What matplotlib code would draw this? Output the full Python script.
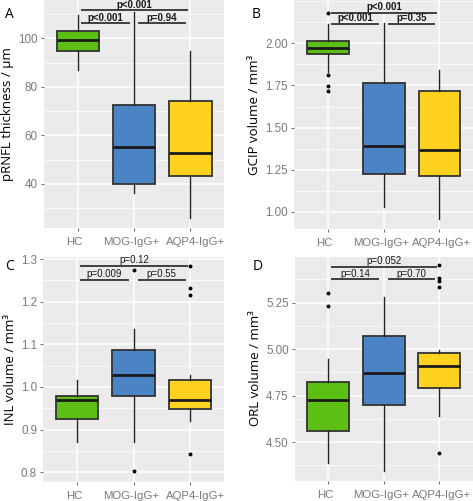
import matplotlib
matplotlib.use("Agg")
import matplotlib.pyplot as plt
from matplotlib.ticker import MultipleLocator
from matplotlib.transforms import ScaledTranslation

groups = ["HC", "MOG-IgG+", "AQP4-IgG+"]
colors = ["#5cbf14", "#4b84c4", "#ffd21f"]

# five-number summaries per group: whisker low, Q1, median, Q3, whisker high
a_stats = [[86.8, 94.8, 99.4, 102.9, 109.7],
           [36.2, 40.0, 55.1, 72.7, 111.0],
           [26.0, 43.2, 52.9, 74.1, 94.8]]
a_fliers = [[], [], []]
b_stats = [[1.832, 1.935, 1.974, 2.014, 2.114],
           [1.032, 1.226, 1.392, 1.763, 2.118],
           [0.958, 1.212, 1.370, 1.719, 1.840]]
b_fliers = [[2.181, 1.81, 1.745, 1.719], [], []]
c_stats = [[0.871, 0.924, 0.969, 0.979, 1.017],
           [0.871, 0.978, 1.028, 1.087, 1.135],
           [0.919, 0.949, 0.970, 1.016, 1.027]]
c_fliers = [[], [0.803, 1.274], [0.842, 1.215, 1.233, 1.284]]
d_stats = [[4.390, 4.558, 4.724, 4.821, 4.948],
           [4.346, 4.700, 4.869, 5.070, 5.277],
           [4.641, 4.792, 4.907, 4.977, 4.997]]
d_fliers = [[5.302, 5.23], [], [4.442, 5.451, 5.381, 5.363, 5.331]]

a_ticks = [40, 60, 80, 100]
b_ticks = [1.00, 1.25, 1.50, 1.75, 2.00]
c_ticks = [0.8, 0.9, 1.0, 1.1, 1.2, 1.3]
d_ticks = [4.50, 4.75, 5.00, 5.25]

a_pvals = ["p<0.001", "p=0.94", "p<0.001"]
b_pvals = ["p<0.001", "p=0.35", "p<0.001"]
c_pvals = ["p=0.009", "p=0.55", "p=0.12"]
d_pvals = ["p=0.14", "p=0.70", "p=0.052"]

a_bracket_y = [106.2, 111.5]
b_bracket_y = [2.114, 2.181]
c_bracket_y = [1.252, 1.285]
d_bracket_y = [5.374, 5.44]

W, H = 473, 501
fig = plt.figure(figsize=(W / 100, H / 100), dpi=100)


def rect(l, t, r, b):
    return [l / W, 1 - b / H, (r - l) / W, (b - t) / H]


left_shift = [-3, -3, 5]
right_shift = [-3, -3, 2]
panels = [
    dict(rect=rect(44, 0, 224.3, 228.3), stats=a_stats, fliers=a_fliers, pv=a_pvals,
         by=a_bracket_y, ylim=(21.7, 115.8), ticks=a_ticks, minor=10, fmt="{:.0f}",
         ylabel="pRNFL thickness / µm", letter="A", lpos=(5, 14), bold=True, shift=left_shift),
    dict(rect=rect(294.3, 0, 473, 229.3), stats=b_stats, fliers=b_fliers, pv=b_pvals,
         by=b_bracket_y, ylim=(0.897, 2.257), ticks=b_ticks, minor=0.125, fmt="{:.2f}",
         ylabel="GCIP volume / mm³", letter="B", lpos=(252, 15), bold=True, shift=right_shift),
    dict(rect=rect(43.3, 257, 224, 481.5), stats=c_stats, fliers=c_fliers, pv=c_pvals,
         by=c_bracket_y, ylim=(0.778, 1.305), ticks=c_ticks, minor=0.05, fmt="{:.1f}",
         ylabel="INL volume / mm³", letter="C", lpos=(5, 266), bold=False, shift=left_shift),
    dict(rect=rect(295, 256.7, 472.5, 480.5), stats=d_stats, fliers=d_fliers, pv=d_pvals,
         by=d_bracket_y, ylim=(4.294, 5.496), ticks=d_ticks, minor=0.125, fmt="{:.2f}",
         ylabel="ORL volume / mm³", letter="D", lpos=(253, 266), bold=False, shift=right_shift),
]

tick_col = "#7a7a7a"
for p in panels:
    ax = fig.add_axes(p["rect"])
    ax.set_facecolor("#ebebeb")
    bxp_stats = []
    for name, s, fl in zip(groups, p["stats"], p["fliers"]):
        bxp_stats.append(dict(label=name, whislo=s[0], q1=s[1], med=s[2], q3=s[3],
                              whishi=s[4], fliers=fl))
    bp = ax.bxp(bxp_stats, positions=[1, 2, 3], widths=0.75, patch_artist=True,
                showcaps=False, zorder=3,
                boxprops=dict(edgecolor="#333333", linewidth=1.3),
                whiskerprops=dict(color="#222222", linewidth=1.0),
                medianprops=dict(color="#1a1a1a", linewidth=2.0),
                flierprops=dict(marker="o", markersize=1.8, markerfacecolor="black",
                                markeredgecolor="black", linestyle="none"))
    for patch, c in zip(bp["boxes"], colors):
        patch.set_facecolor(c)
    ax.set_xlim(0.4, 3.6)
    ax.set_ylim(*p["ylim"])
    ax.set_yticks(p["ticks"])
    ax.set_yticklabels([p["fmt"].format(v) for v in p["ticks"]])
    ax.yaxis.set_minor_locator(MultipleLocator(p["minor"]))
    ax.set_xticks([1, 2, 3])
    ax.set_xticklabels(groups)
    ax.grid(True, which="major", color="white", linewidth=1.1, zorder=0)
    ax.grid(True, which="minor", axis="y", color="white", linewidth=0.5, zorder=0)
    ax.set_axisbelow(True)
    for sp in ax.spines.values():
        sp.set_visible(False)
    ax.tick_params(axis="both", which="major", length=2.5, width=0.6, color="#555555",
                   labelcolor=tick_col, labelsize=8.4, pad=2)
    ax.tick_params(axis="x", pad=4, labelsize=8.2)
    ax.tick_params(axis="y", which="minor", length=0)
    for lab in ax.get_xticklabels() + ax.get_yticklabels():
        lab.set_family("Liberation Sans")
    for lab, dx in zip(ax.get_xticklabels(), p["shift"]):
        lab.set_transform(lab.get_transform() + ScaledTranslation(dx / 100, 0, fig.dpi_scale_trans))
    ax.set_ylabel(p["ylabel"], fontsize=9.5, family="Open Sans", color="black", labelpad=3)

    # significance brackets
    ylo, yhi = p["by"]
    weight = "bold" if p["bold"] else "normal"
    segs = [((1.05, 1.92), ylo, p["pv"][0]),
            ((2.07, 2.92), ylo, p["pv"][1]),
            ((1.05, 2.96), yhi, p["pv"][2])]
    span = p["ylim"][1] - p["ylim"][0]
    for (x0, x1), yy, txt in segs:
        ax.plot([x0, x1], [yy, yy], color="#333333", linewidth=1.3, zorder=4,
                solid_capstyle="butt")
        ax.text((x0 + x1) / 2, yy + span * 0.003, txt, ha="center", va="bottom",
                fontsize=7, fontweight=weight, family="Liberation Sans", color="#1a1a1a",
                zorder=5)

    fig.text(p["lpos"][0] / W, 1 - p["lpos"][1] / H, p["letter"], fontsize=10,
             family="Open Sans", ha="left", va="center")

fig.savefig("out.png", dpi=100)
